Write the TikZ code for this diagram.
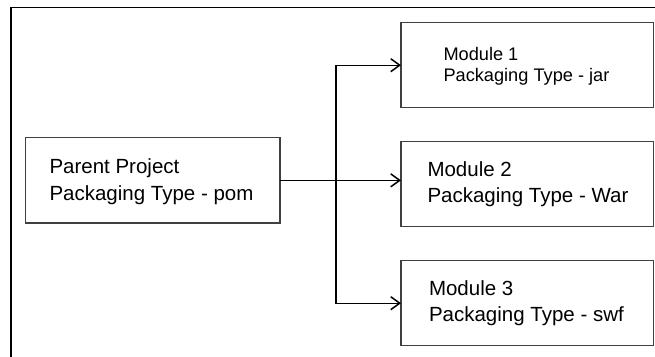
\documentclass[tikz,border=0pt]{standalone}
\usepackage{fontspec}
\setmainfont{Liberation Sans}
\usetikzlibrary{arrows.meta}
\definecolor{boxgray}{HTML}{404040}
\begin{document}
\begin{tikzpicture}[x=1pt,y=-1pt,
  frame/.style={draw=black,line width=1.3pt},
  box/.style={draw=boxgray,line width=1.3pt,rectangle,inner sep=0pt,outer sep=0pt,anchor=north west},
  modbox/.style={box,minimum width=252.5pt,minimum height=85pt},
  conn/.style={draw=black,line width=1.3pt,-{Straight Barb[length=9pt,width=13pt,line width=1.5pt]}},
  lbl/.style={anchor=base west,inner sep=0pt,outer sep=0pt,font=\fontsize{20.5}{24}\selectfont},
  lblsmall/.style={lbl,font=\fontsize{18.2}{22}\selectfont}]
\useasboundingbox (0,0) rectangle (655,356);
% outer frame (top and left edges)
\coordinate (ftl) at (11,7.3);
\coordinate (ftr) at (656,7.3);
\coordinate (fbl) at (11,357);
\draw[frame] (ftr) -- (ftl) -- (fbl);
% boxes
\node[box,minimum width=254.5pt,minimum height=85.3pt] (parent) at (25.5,137.7) {};
\node[modbox] (m1) at (401,22.7) {};
\node[modbox] (m2) at (401,141.7) {};
\node[modbox] (m3) at (401,260.7) {};
% texts
\node[lbl] (pt1) at (49.5,173.3) {Parent Project};
\node[lbl] (pt2) at (49.5,200) {Packaging Type - pom};
\node[lblsmall] (m1t1) at (443.5,60) {Module 1};
\node[lblsmall] (m1t2) at (443.5,81.7) {Packaging Type - jar};
\node[lbl] (m2t1) at (427.5,176.7) {Module 2};
\node[lbl] (m2t2) at (427.5,202.7) {Packaging Type - War};
\node[lbl] (m3t1) at (429,295.7) {Module 3};
\node[lbl] (m3t2) at (429,321.7) {Packaging Type - swf};
% connectors
\coordinate (spine) at (336,180.35);
\draw[conn] (parent.east) -- (parent.east -| m2.west);
\draw[conn] (spine) |- (m1.west);
\draw[conn] (spine) |- (m3.west);
\end{tikzpicture}
\end{document}
